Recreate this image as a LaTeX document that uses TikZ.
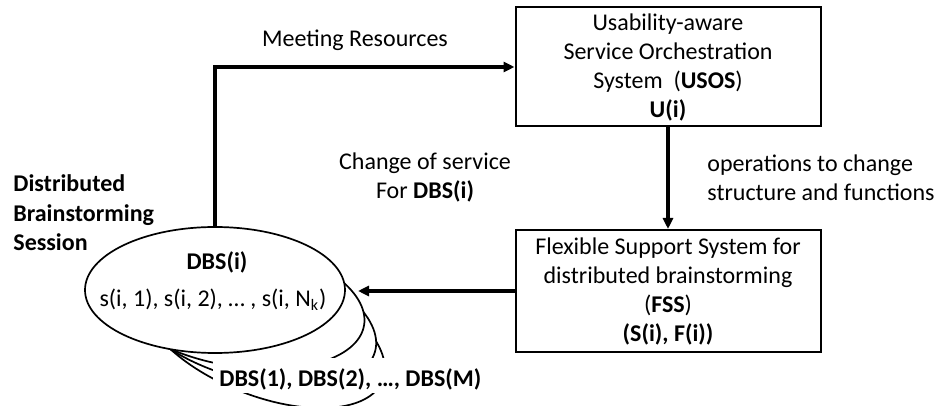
\documentclass[tikz,border=0pt]{standalone}
\usepackage{fontspec}
\setmainfont{Carlito}
\usepackage{tikz}
\usetikzlibrary{arrows.meta,shapes.geometric}
\tikzstyle{sysbox}=[draw,line width=1pt,minimum width=152.5pt,align=center,inner sep=0pt]
\tikzstyle{session}=[draw,ellipse,fill=white,line width=0.85pt,minimum width=130pt,minimum height=63pt,inner sep=0pt]
\tikzstyle{flow} = [draw,line width=2pt,-{Triangle[length=5.5pt,width=5pt]}]
\tikzstyle{txt}=[align=center,inner sep=0pt]
\tikzstyle{boldtxt}=[align=left,inner sep=0pt,font=\fontsize{12}{14.75}\selectfont\bfseries]

\begin{document}
\begin{tikzpicture}[x=0.5pt,y=-0.5pt,font=\fontsize{12}{14.5}\selectfont]
        \useasboundingbox (0,0) rectangle (939,406);
        \node[sysbox,minimum height=59.5pt] (usos) at (668,67) {Usability-aware\\Service Orchestration\\System\ \ (\textbf{USOS})\\\textbf{U(i)}};
        \node[sysbox,minimum height=61pt] (fss) at (668,291) {Flexible Support System for\\distributed brainstorming\\(\textbf{FSS})\\\textbf{(S(i), F(i))}};
        % stack of sessions, back to front
        \node[session,rotate=-22] (dbs3) at (262,332) {};
        \node[session,rotate=-16] (dbs2) at (250,316) {};
        \node[session,rotate=-10] (dbs1) at (236,303) {};
        \node[session] (dbs) at (215,290) {};
        \node (dbsi) at (217,262) {\textbf{DBS(i)}};
        \node (dbsmem) at (213,300) {s(i, 1), s(i, 2), … , s(i, N\textsubscript{k})};
        \node[fill=white,inner xsep=3pt,inner ysep=2pt,text height=12.5pt,text depth=1pt,anchor=base west] (dbsall) at (213,387) {\textbf{DBS(1), DBS(2), …, DBS(M)}};
        \node[boldtxt,anchor=west] (dbslbl) at (13,213) {Distributed\\Brainstorming\\Session};
        \coordinate (tip) at (358,291);
        \node[txt] (meet) at (355,40) {Meeting Resources};
        \node[txt] (chg) at (425,177) {Change of service\\For \textbf{DBS(i)}};
        \node[txt,align=left,anchor=west] (ops) at (707,178) {operations to change\\structure and functions};
        \draw[flow] (dbs.north) |- (usos.west);
        \draw[flow] (usos.south) -- (fss.north);
        \draw[flow] (fss.west) -- (tip);
      \end{tikzpicture}
\end{document}
